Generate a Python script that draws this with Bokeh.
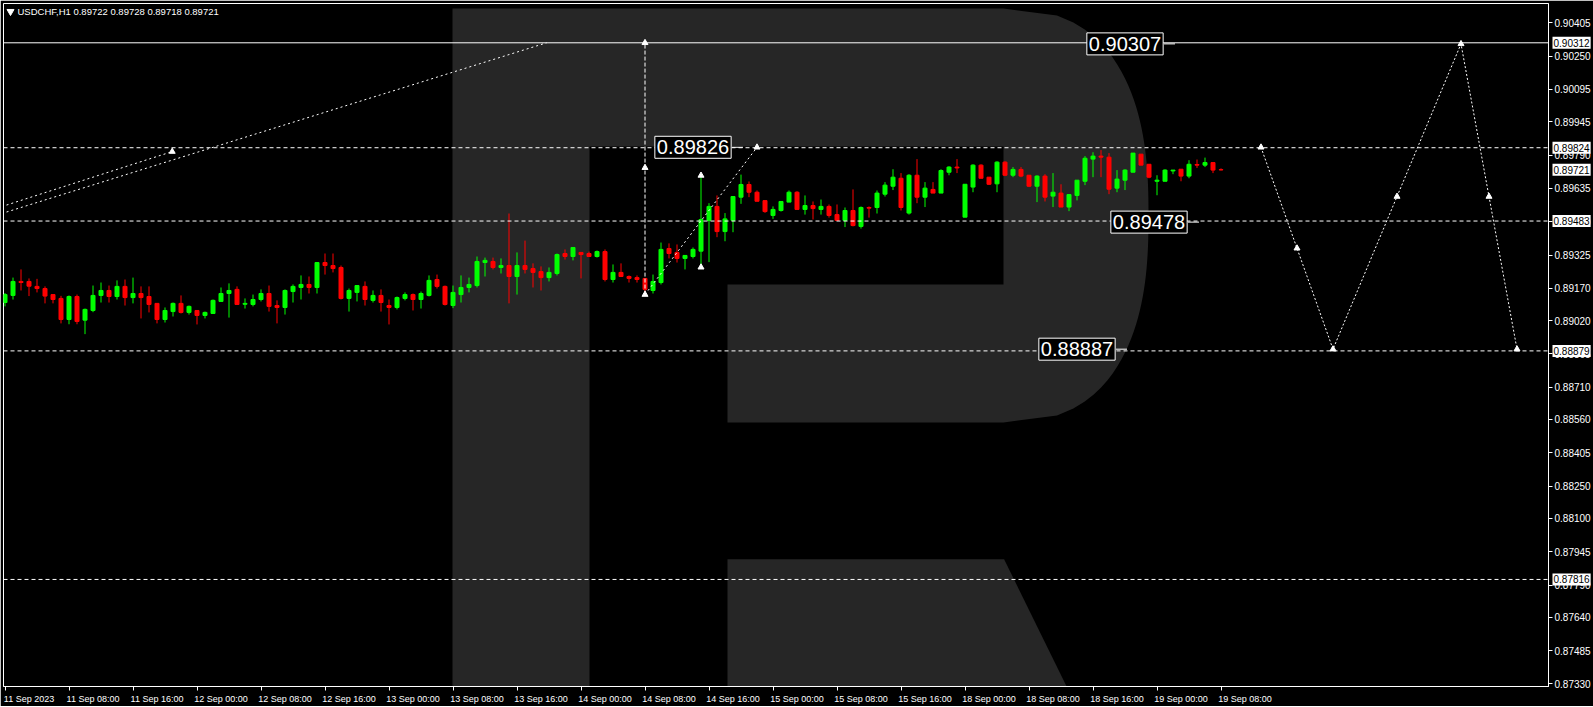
import numpy as np
from bokeh.plotting import figure
from bokeh.models import ColumnDataSource, Span, Label, FixedTicker, NumeralTickFormatter, Range1d
from bokeh.embed import file_html
from bokeh.resources import INLINE

# ---------------- data (USDCHF H1) ----------------
open_ = [0.89104, 0.89137, 0.89202, 0.89202, 0.89179, 0.89169, 0.89141, 0.89123, 0.89025, 0.89132,
         0.89022, 0.89067, 0.89137, 0.89160, 0.89132, 0.89179, 0.89127, 0.89146, 0.89132, 0.89100,
         0.89025, 0.89062, 0.89100, 0.89058, 0.89067, 0.89044, 0.89053, 0.89109, 0.89146, 0.89165,
         0.89096, 0.89095, 0.89118, 0.89146, 0.89090, 0.89081, 0.89155, 0.89174, 0.89188, 0.89174,
         0.89290, 0.89276, 0.89267, 0.89123, 0.89151, 0.89179, 0.89114, 0.89137, 0.89090, 0.89081,
         0.89123, 0.89141, 0.89118, 0.89137, 0.89211, 0.89179, 0.89090, 0.89141, 0.89174, 0.89183,
         0.89290, 0.89295, 0.89267, 0.89276, 0.89225, 0.89276, 0.89262, 0.89248, 0.89220, 0.89239,
         0.89332, 0.89318, 0.89337, 0.89332, 0.89318, 0.89341, 0.89211, 0.89244, 0.89225, 0.89220,
         0.89216, 0.89160, 0.89197, 0.89355, 0.89337, 0.89309, 0.89318, 0.89343, 0.89486, 0.89551,
         0.89434, 0.89486, 0.89594, 0.89653, 0.89617, 0.89578, 0.89509, 0.89532, 0.89571, 0.89617,
         0.89537, 0.89555, 0.89537, 0.89551, 0.89513, 0.89486, 0.89532, 0.89458, 0.89546, 0.89546,
         0.89608, 0.89645, 0.89682, 0.89520, 0.89696, 0.89594, 0.89630, 0.89613, 0.89710, 0.89734,
         0.89501, 0.89641, 0.89743, 0.89687, 0.89656, 0.89757, 0.89696, 0.89723, 0.89696, 0.89645,
         0.89692, 0.89599, 0.89613, 0.89548, 0.89602, 0.89668, 0.89771, 0.89785, 0.89780, 0.89636,
         0.89673, 0.89710, 0.89794, 0.89747, 0.89668, 0.89668, 0.89716, 0.89724, 0.89692, 0.89746,
         0.89743, 0.89755, 0.89722]
high = [0.89148, 0.89220, 0.89258, 0.89216, 0.89214, 0.89179, 0.89141, 0.89135, 0.89137, 0.89141,
        0.89076, 0.89183, 0.89197, 0.89183, 0.89207, 0.89211, 0.89220, 0.89179, 0.89179, 0.89100,
        0.89081, 0.89104, 0.89137, 0.89090, 0.89067, 0.89062, 0.89118, 0.89174, 0.89193, 0.89179,
        0.89123, 0.89141, 0.89165, 0.89183, 0.89114, 0.89165, 0.89188, 0.89230, 0.89225, 0.89290,
        0.89332, 0.89332, 0.89276, 0.89169, 0.89183, 0.89202, 0.89160, 0.89165, 0.89118, 0.89132,
        0.89151, 0.89146, 0.89155, 0.89230, 0.89234, 0.89183, 0.89183, 0.89230, 0.89220, 0.89318,
        0.89313, 0.89313, 0.89309, 0.89518, 0.89337, 0.89392, 0.89286, 0.89272, 0.89267, 0.89332,
        0.89351, 0.89360, 0.89337, 0.89341, 0.89346, 0.89351, 0.89281, 0.89286, 0.89230, 0.89230,
        0.89216, 0.89234, 0.89383, 0.89379, 0.89374, 0.89323, 0.89360, 0.89695, 0.89566, 0.89602,
        0.89520, 0.89597, 0.89699, 0.89667, 0.89625, 0.89578, 0.89551, 0.89574, 0.89625, 0.89622,
        0.89602, 0.89574, 0.89583, 0.89560, 0.89560, 0.89546, 0.89630, 0.89551, 0.89551, 0.89625,
        0.89664, 0.89724, 0.89706, 0.89701, 0.89771, 0.89664, 0.89664, 0.89724, 0.89738, 0.89771,
        0.89654, 0.89747, 0.89747, 0.89687, 0.89761, 0.89761, 0.89734, 0.89734, 0.89696, 0.89696,
        0.89701, 0.89706, 0.89654, 0.89606, 0.89673, 0.89785, 0.89803, 0.89813, 0.89799, 0.89720,
        0.89724, 0.89799, 0.89794, 0.89747, 0.89696, 0.89724, 0.89720, 0.89724, 0.89766, 0.89769,
        0.89778, 0.89755, 0.89728]
low = [0.89086, 0.89118, 0.89160, 0.89134, 0.89151, 0.89100, 0.89100, 0.89007, 0.89003, 0.89003,
       0.88957, 0.89059, 0.89104, 0.89104, 0.89118, 0.89090, 0.89100, 0.89030, 0.89058, 0.89007,
       0.89011, 0.89039, 0.89053, 0.89048, 0.89002, 0.89030, 0.89053, 0.89109, 0.89034, 0.89095,
       0.89076, 0.89086, 0.89109, 0.89062, 0.89007, 0.89048, 0.89104, 0.89118, 0.89146, 0.89146,
       0.89234, 0.89244, 0.89118, 0.89062, 0.89109, 0.89090, 0.89104, 0.89062, 0.89002, 0.89072,
       0.89114, 0.89067, 0.89076, 0.89132, 0.89169, 0.89090, 0.89078, 0.89104, 0.89151, 0.89174,
       0.89225, 0.89258, 0.89239, 0.89100, 0.89141, 0.89239, 0.89174, 0.89160, 0.89202, 0.89230,
       0.89304, 0.89300, 0.89216, 0.89318, 0.89313, 0.89202, 0.89197, 0.89225, 0.89197, 0.89197,
       0.89141, 0.89146, 0.89188, 0.89309, 0.89290, 0.89258, 0.89309, 0.89268, 0.89292, 0.89408,
       0.89389, 0.89431, 0.89563, 0.89594, 0.89575, 0.89521, 0.89493, 0.89527, 0.89571, 0.89537,
       0.89513, 0.89490, 0.89513, 0.89499, 0.89486, 0.89455, 0.89458, 0.89448, 0.89499, 0.89518,
       0.89597, 0.89627, 0.89532, 0.89513, 0.89566, 0.89548, 0.89613, 0.89613, 0.89696, 0.89706,
       0.89501, 0.89617, 0.89682, 0.89651, 0.89617, 0.89692, 0.89687, 0.89687, 0.89641, 0.89571,
       0.89574, 0.89548, 0.89548, 0.89529, 0.89579, 0.89650, 0.89687, 0.89687, 0.89608, 0.89617,
       0.89627, 0.89710, 0.89743, 0.89682, 0.89603, 0.89668, 0.89701, 0.89668, 0.89682, 0.89730,
       0.89734, 0.89706, 0.89718]
close = [0.89141, 0.89202, 0.89197, 0.89180, 0.89169, 0.89134, 0.89118, 0.89025, 0.89132, 0.89016,
         0.89072, 0.89137, 0.89160, 0.89132, 0.89179, 0.89127, 0.89146, 0.89127, 0.89095, 0.89025,
         0.89067, 0.89100, 0.89058, 0.89086, 0.89044, 0.89058, 0.89114, 0.89146, 0.89160, 0.89095,
         0.89100, 0.89118, 0.89146, 0.89086, 0.89081, 0.89160, 0.89179, 0.89188, 0.89174, 0.89290,
         0.89276, 0.89262, 0.89123, 0.89160, 0.89183, 0.89118, 0.89137, 0.89104, 0.89081, 0.89127,
         0.89141, 0.89118, 0.89146, 0.89207, 0.89179, 0.89095, 0.89151, 0.89174, 0.89188, 0.89295,
         0.89300, 0.89267, 0.89276, 0.89225, 0.89276, 0.89258, 0.89244, 0.89220, 0.89244, 0.89327,
         0.89318, 0.89360, 0.89327, 0.89318, 0.89341, 0.89211, 0.89244, 0.89225, 0.89216, 0.89211,
         0.89165, 0.89202, 0.89351, 0.89332, 0.89309, 0.89323, 0.89351, 0.89490, 0.89551, 0.89434,
         0.89493, 0.89597, 0.89653, 0.89617, 0.89575, 0.89527, 0.89537, 0.89574, 0.89617, 0.89537,
         0.89555, 0.89541, 0.89551, 0.89509, 0.89486, 0.89532, 0.89462, 0.89546, 0.89543, 0.89613,
         0.89650, 0.89687, 0.89546, 0.89696, 0.89594, 0.89636, 0.89613, 0.89718, 0.89734, 0.89730,
         0.89654, 0.89743, 0.89682, 0.89654, 0.89757, 0.89696, 0.89723, 0.89692, 0.89645, 0.89692,
         0.89594, 0.89617, 0.89548, 0.89606, 0.89673, 0.89775, 0.89785, 0.89780, 0.89631, 0.89678,
         0.89720, 0.89799, 0.89743, 0.89687, 0.89673, 0.89720, 0.89720, 0.89692, 0.89747, 0.89743,
         0.89755, 0.89720, 0.89721]
bars = list(range(len(open_)))

time_tick_bars = [0, 8, 16, 24, 32, 40, 48, 56, 64, 72, 80, 88, 96, 104, 112, 120, 128, 136, 144, 152]
time_tick_labels = ["11 Sep 2023", "11 Sep 08:00", "11 Sep 16:00", "12 Sep 00:00", "12 Sep 08:00",
                    "12 Sep 16:00", "13 Sep 00:00", "13 Sep 08:00", "13 Sep 16:00", "14 Sep 00:00",
                    "14 Sep 08:00", "14 Sep 16:00", "15 Sep 00:00", "15 Sep 08:00", "15 Sep 16:00",
                    "18 Sep 00:00", "18 Sep 08:00", "18 Sep 16:00", "19 Sep 00:00", "19 Sep 08:00"]
price_ticks = [0.90405, 0.90250, 0.90095, 0.89945, 0.89790, 0.89635, 0.89480, 0.89325, 0.89170,
               0.89020, 0.88865, 0.88710, 0.88560, 0.88405, 0.88250, 0.88100, 0.87945, 0.87790,
               0.87640, 0.87485, 0.87330]
marked_prices = [0.90312, 0.89824, 0.89721, 0.89483, 0.88879, 0.87816]
solid_level = 0.90312
dashed_levels = [0.89824, 0.89483, 0.88879, 0.87816]

# forecast path and analysis drawings
fc_bars = [157, 166, 182, 189]
fc_prices = [0.89826, 0.88887, 0.90307, 0.88887]
wave_bars = [80, 94]
wave_prices = [0.89141, 0.89826]
vert_bar = 80
vert_prices = [0.89141, 0.90312]
vert_marks = [0.90312, 0.89731, 0.89141]
spike_bar = 87
spike_marks = [0.89695, 0.89268]
trend1_bars = [-1, 67.7]
trend1_prices = [0.89511, 0.90312]
trend2_bars = [-1, 20.9]
trend2_prices = [0.89543, 0.89806]

box_texts = ["0.89826", "0.90307", "0.89478", "0.88887"]
box_bars = [86, 140, 143, 134]
box_prices = [0.89826, 0.90307, 0.89478, 0.88887]

header = "USDCHF,H1  0.89722 0.89728 0.89718 0.89721"

# ---------------- geometry helpers ----------------
PX_BAR = 8.0
BAR0 = 4.5
P_REF, PY_REF, PX_PRICE = 0.90312, 42.3, 21500.0
FL, FT, FW, FH = 3, 3, 1545, 683


def bx(px):
    return (px - BAR0) / PX_BAR


def pr(py):
    return P_REF - (py - PY_REF) / PX_PRICE


x_start = bx(FL)
x_end = x_start + FW / PX_BAR
y_top = pr(FT)
y_bot = y_top - FH / PX_PRICE

p = figure(frame_width=FW, frame_height=FH,
           x_range=Range1d(x_start, x_end), y_range=Range1d(y_bot, y_top),
           output_backend="svg", toolbar_location=None, y_axis_location="right",
           background_fill_color="black", border_fill_color="black",
           outline_line_color="white", outline_line_width=1,
           min_border_left=FL, min_border_top=FT, min_border_right=44, min_border_bottom=20)
p.grid.visible = False

# axes
ya = p.yaxis[0]
ya.ticker = FixedTicker(ticks=price_ticks)
ya.formatter = NumeralTickFormatter(format="0.00000")
ya.major_tick_out = 4
ya.major_tick_in = 0
ya.minor_tick_line_color = None
ya.major_tick_line_color = "white"
ya.axis_line_color = "white"
ya.major_label_text_color = "white"
ya.major_label_text_font = "Liberation Sans"
ya.major_label_text_font_size = "10px"
ya.major_label_standoff = 2

shift = 3.0
xa = p.xaxis[0]
xa.ticker = FixedTicker(ticks=[b + shift for b in time_tick_bars], minor_ticks=time_tick_bars)
xa.major_label_overrides = {b + shift: t for b, t in zip(time_tick_bars, time_tick_labels)}
xa.major_tick_line_color = None
xa.major_tick_out = 0
xa.major_tick_in = 0
xa.minor_tick_out = 4
xa.minor_tick_in = 0
xa.minor_tick_line_color = "white"
xa.axis_line_color = "white"
xa.major_label_text_color = "white"
xa.major_label_text_font = "Liberation Sans"
xa.major_label_text_font_size = "9px"
xa.major_label_standoff = 3


# background logo (decoration, pixel geometry)
def sup_curve(cx, cy, rx, ry, n, k=60):
    pts = []
    for t in np.linspace(-1, 1, k):
        pts.append((cx + rx * (1 - abs(t) ** n) ** (1 / n), cy + ry * t))
    return pts


body_px = [(452, 8), (1003, 8)] + sup_curve(1003, 215, 145, 207, 2.5) + \
          [(1003, 422), (727, 422), (727, 284), (1003, 284), (1003, 146), (589, 146),
           (589, 700), (452, 700)]
leg_px = [(727, 558.7), (1003.6, 558.7), (1073, 700), (727, 700)]
logo_xs, logo_ys = [], []
for poly in (body_px, leg_px):
    logo_xs.append([bx(a) for a, b in poly])
    logo_ys.append([pr(b) for a, b in poly])
p.patches(logo_xs, logo_ys, fill_color="#262626", line_color=None)

# candles
colors = ["#00ff00" if c >= o else "#ff0000" for o, c in zip(open_, close)]
src = ColumnDataSource(dict(x=bars, h=high, l=low,
                            top=[max(o, c) for o, c in zip(open_, close)],
                            bottom=[min(o, c) for o, c in zip(open_, close)],
                            color=colors))
p.segment(x0="x", y0="h", x1="x", y1="l", line_color="color", line_width=1, source=src)
p.vbar(x="x", top="top", bottom="bottom", width=0.5, fill_color="color",
       line_color="color", line_width=1, source=src)

# horizontal levels
p.add_layout(Span(location=solid_level, dimension="width", line_color="white", line_width=1))
for lvl in dashed_levels:
    p.add_layout(Span(location=lvl, dimension="width", line_color="white", line_width=1,
                      line_dash="4 3"))

# analysis lines
p.line(trend1_bars, trend1_prices, line_color="white", line_width=1, line_dash="2 3")
p.line(trend2_bars, trend2_prices, line_color="white", line_width=1, line_dash="2 3")
p.line([vert_bar, vert_bar], vert_prices, line_color="white", line_width=1, line_dash="4 2")
p.line(wave_bars, wave_prices, line_color="white", line_width=1, line_dash="2 3")
p.line(fc_bars, fc_prices, line_color="white", line_width=1, line_dash="2 2")

mk_x = [trend2_bars[-1]] + [vert_bar] * len(vert_marks) + [spike_bar] * len(spike_marks) + [wave_bars[-1]]
mk_y = [trend2_prices[-1]] + vert_marks + spike_marks + [wave_prices[-1]]
mk_x += fc_bars + [(a + b) / 2 for a, b in zip(fc_bars[:-1], fc_bars[1:])]
mk_y += fc_prices + [(a + b) / 2 for a, b in zip(fc_prices[:-1], fc_prices[1:])]
p.scatter(mk_x, mk_y, marker="triangle", size=6, fill_color="white", line_color="white")

# boxed price labels with leaders
for t, b, v in zip(box_texts, box_bars, box_prices):
    p.add_layout(Label(x=b, y=v, text=t, text_color="white", text_font="Liberation Sans",
                       text_font_size="20px", text_align="center", text_baseline="middle",
                       background_fill_color="black", border_line_color="white",
                       border_line_width=1, padding=(2, 4)))
p.segment(x0=[b + 39 / PX_BAR for b in box_bars], y0=box_prices,
          x1=[b + 50 / PX_BAR for b in box_bars], y1=box_prices,
          line_color="white", line_width=1)

# highlighted prices on the price scale (side panel so they are not clipped)
for mp in marked_prices:
    p.add_layout(Label(x=x_end, y=mp, x_offset=4, text=f"{mp:.5f}", text_align="left",
                       text_baseline="middle", text_color="black", text_font="Liberation Sans",
                       text_font_size="10px", background_fill_color="white", padding=(1, 2)),
                 "right")

# header
p.scatter([bx(10)], [pr(11)], marker="inverted_triangle", size=7, fill_color="white",
          line_color="white")
p.add_layout(Label(x=bx(17), y=pr(11), text=header, text_align="left", text_baseline="middle",
                   text_color="white", text_font="Liberation Sans", text_font_size="9.5px"))

open("out.html", "w").write(file_html(p, INLINE))
